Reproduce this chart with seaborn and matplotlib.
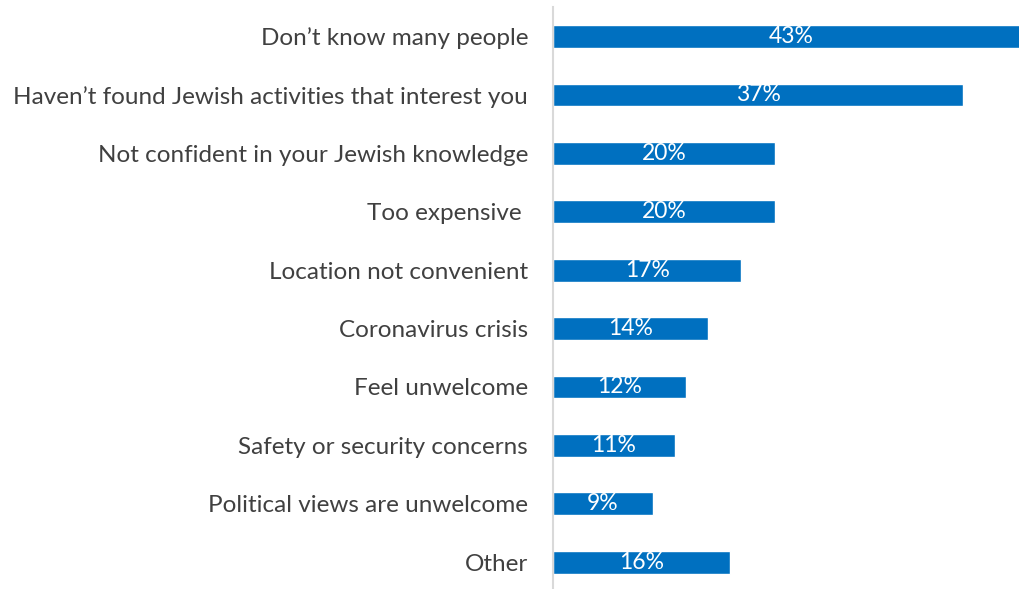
import matplotlib
matplotlib.use("Agg")
import matplotlib.pyplot as plt
import seaborn as sns
import pandas as pd

categories = [
    "Don’t know many people",
    "Haven’t found Jewish activities that interest you",
    "Not confident in your Jewish knowledge",
    "Too expensive ",
    "Location not convenient",
    "Coronavirus crisis",
    "Feel unwelcome",
    "Safety or security concerns",
    "Political views are unwelcome",
    "Other",
]
values = [43, 37, 20, 20, 17, 14, 12, 11, 9, 16]
value_labels = ["43%", "37%", "20%", "20%", "17%", "14%", "12%", "11%", "9%", "16%"]

df = pd.DataFrame({"reason": categories, "pct": values})

sns.set_theme(style="white")
plt.rcParams["font.family"] = ["Lato", "DejaVu Sans"]

fig = plt.figure(figsize=(10.19, 5.89), dpi=100)
ax = fig.add_axes([0.5427, -0.004, 0.4573, 0.9916])

sns.barplot(data=df, x="pct", y="reason", orient="h", color="#0070C0",
            saturation=1, width=0.39, ax=ax)

ax.set_xlim(0, 42.05)
ax.set_ylim(len(categories) - 0.5, -0.5)
ax.set_xlabel("")
ax.set_ylabel("")
ax.set_xticks([])

for i, (v, lab) in enumerate(zip(values, value_labels)):
    ax.text(v / 2, i, lab, ha="center", va="center", color="white",
            fontsize=16.5, clip_on=False)

ax.tick_params(axis="y", length=0, pad=18, labelsize=17.5, labelcolor="#404040")
for side in ["top", "right", "bottom"]:
    ax.spines[side].set_visible(False)
ax.spines["left"].set_color("#d9d9d9")
ax.spines["left"].set_linewidth(1.5)

fig.savefig("out.png", dpi=100)
